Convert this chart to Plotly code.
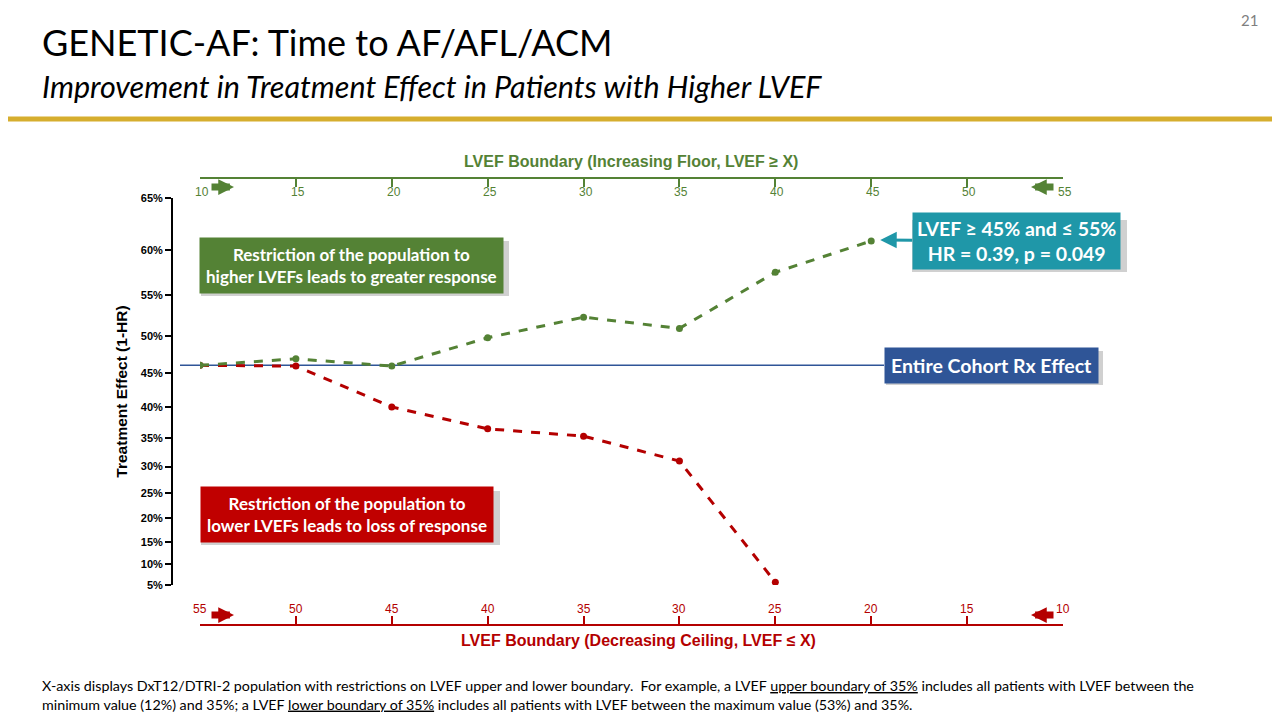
import math
import plotly.graph_objects as go

# LVEF boundary values (top axis: floor, bottom axis: ceiling)
floor_lvef = [10, 15, 20, 25, 30, 35, 40, 45]
floor_effect = [46.1, 47.0, 46.0, 49.8, 52.4, 51.0, 57.6, 60.9]   # treatment effect %, 1-HR

ceiling_lvef = [55, 50, 45, 40, 35, 30, 25]
ceiling_effect = [46.1, 46.0, 40.0, 36.5, 35.3, 31.0, 5.7]

cohort_effect = 46.1
best_lvef = 45
best_hr = 0.39

y_ticks = [65, 60, 55, 50, 45, 40, 35, 30, 25, 20, 15, 10, 5]
x_ticks = [10, 15, 20, 25, 30, 35, 40, 45, 50, 55]

GREEN = '#548235'
RED = '#B40000'
BOXRED = '#C00000'
TEAL = '#1F97A8'
NAVY = '#2F5597'
SHADOW = '#c4c4c4'
FONT = 'Lato'

# page has an 8px body margin, so work in screen pixels and shift
OFF = 8
FW, FH = 1280 - OFF, 720 - OFF
L, R, T, B = 172 - OFF, 1063 - OFF, 178 - OFF, 625 - OFF
W, H = R - L, B - T


def px(x):
    return (x - OFF - L) / W


def py(y):
    return (B - (y - OFF)) / H


def hr(e):
    return 1 - e / 100


fig = go.Figure()

# floor series (top axis)
fig.add_trace(go.Scatter(
    x = floor_lvef, y = [hr(e) for e in floor_effect], xaxis = 'x2', yaxis = 'y',
    mode = 'lines+markers', line = dict(color = GREEN, width = 3, dash = 'dash'),
    marker = dict(color = GREEN, size = 7), hoverinfo = 'skip'
))

# ceiling series (bottom axis)
fig.add_trace(go.Scatter(
    x = ceiling_lvef, y = [hr(e) for e in ceiling_effect], xaxis = 'x', yaxis = 'y',
    mode = 'lines+markers', line = dict(color = RED, width = 3, dash = 'dash'),
    marker = dict(color = RED, size = 7), hoverinfo = 'skip'
))

# entire cohort reference line
fig.add_shape(type = 'line', xref = 'paper', yref = 'y', x0 = px(180), x1 = px(884),
              y0 = hr(cohort_effect), y1 = hr(cohort_effect), line = dict(color = NAVY, width = 1.5), layer = 'below')

dom_x = [(200 - OFF - L) / W, 1]
dom_y = [py(585), py(198)]

fig.update_layout(
    width = FW, height = FH, autosize = False,
    margin = dict(l = L, r = FW - R, t = T, b = FH - B, pad = 0),
    paper_bgcolor = 'white', plot_bgcolor = 'white', showlegend = False,
    xaxis = dict(
        domain = dom_x, range = [55, 10], anchor = 'free', position = 0,
        tickvals = x_ticks, showticklabels = False, showline = True, linecolor = RED, linewidth = 2,
        ticks = 'inside', ticklen = 8, tickwidth = 2, tickcolor = RED,
        showgrid = False, zeroline = False,
    ),
    xaxis2 = dict(
        domain = dom_x, range = [10, 55], anchor = 'free', position = 1, side = 'top', overlaying = 'x',
        tickvals = x_ticks, showticklabels = False, showline = True, linecolor = GREEN, linewidth = 2,
        ticks = 'inside', ticklen = 8, tickwidth = 2, tickcolor = GREEN,
        showgrid = False, zeroline = False,
    ),
    yaxis = dict(
        domain = dom_y, type = 'log', range = [math.log10(0.95), math.log10(0.35)],
        anchor = 'free', position = 0,
        tickvals = [hr(v) for v in y_ticks], ticktext = [f'<b>{v}%</b>' for v in y_ticks],
        showline = True, linecolor = 'black', linewidth = 2,
        ticks = 'outside', ticklen = 6, tickwidth = 2, tickcolor = 'black',
        tickfont = dict(family = 'Arial', size = 11, color = 'black'),
        showgrid = False, zeroline = False,
        title = dict(text = '<b>Treatment Effect (1-HR)</b>',
                     font = dict(family = 'Arial', size = 15.5, color = 'black'), standoff = 8),
    ),
)

annotations = [
    dict(x = px(40), y = py(42), text = 'GENETIC-AF: Time to AF/AFL/ACM', xanchor = 'left', yanchor = 'middle',
         font = dict(family = FONT, size = 36, color = 'black')),
    dict(x = px(40), y = py(86), text = '<i>Improvement in Treatment Effect in Patients with Higher LVEF</i>',
         xanchor = 'left', yanchor = 'middle', font = dict(family = FONT, size = 30.5, color = 'black')),
    dict(x = px(1260), y = py(20), text = '21', xanchor = 'right', yanchor = 'middle',
         font = dict(family = FONT, size = 15, color = '#7f7f7f')),
    dict(x = px(40), y = py(695),
         text = 'X-axis displays DxT12/DTRI-2 population with restrictions on LVEF upper and lower boundary.  For example, a LVEF '
                '<u>upper boundary of 35%</u> includes all patients with LVEF between the<br>minimum value (12%) and 35%; a LVEF '
                '<u>lower boundary of 35%</u> includes all patients with LVEF between the maximum value (53%) and 35%.',
         xanchor = 'left', yanchor = 'middle', align = 'left', font = dict(family = FONT, size = 14.3, color = 'black')),
    # axis titles
    dict(x = px(631), y = py(161), text = '<b>LVEF Boundary (Increasing Floor, LVEF ≥ X)</b>', xanchor = 'center',
         yanchor = 'middle', font = dict(family = 'Arial', size = 16, color = GREEN)),
    dict(x = px(638), y = py(640), text = '<b>LVEF Boundary (Decreasing Ceiling, LVEF ≤ X)</b>', xanchor = 'center',
         yanchor = 'middle', font = dict(family = 'Arial', size = 16, color = RED)),
]

# tick labels of the two LVEF axes
for v in x_ticks:
    annotations.append(dict(x = v, xref = 'x2', y = py(192), text = str(v), xanchor = 'center', yanchor = 'middle',
                            xshift = 2, font = dict(family = 'Arial', size = 12, color = GREEN)))
    annotations.append(dict(x = v, xref = 'x', y = py(609), text = str(v), xanchor = 'center', yanchor = 'middle',
                            font = dict(family = 'Arial', size = 12, color = RED)))

# text boxes
boxes = [
    (351, 265, '<b>Restriction of the population to<br>higher LVEFs leads to greater response</b>', GREEN, 17, 6),
    (347, 514, '<b>Restriction of the population to<br>lower LVEFs leads to loss of response</b>', BOXRED, 17, 6),
    (991, 365, '<b>Entire Cohort Rx Effect</b>', NAVY, 19.5, 6),
]
for bx, by, txt, col, size, pad in boxes:
    annotations.append(dict(x = px(bx), y = py(by), text = txt, xanchor = 'center', yanchor = 'middle',
                            bgcolor = col, borderpad = pad, font = dict(family = FONT, size = size, color = 'white')))

annotations.append(dict(x = best_lvef, y = math.log10(best_hr), xref = 'x2', yref = 'y',
                        text = '<b>LVEF ≥ 45% and ≤ 55%<br>HR = 0.39, p = 0.049</b>',
                        bgcolor = TEAL, borderpad = 4, font = dict(family = FONT, size = 19.5, color = 'white'),
                        showarrow = True, ax = 145, ay = 1, arrowhead = 2, arrowwidth = 3, arrowsize = 1.1,
                        arrowcolor = TEAL, standoff = 9))

# axis direction arrows
for ax_x, tail, y, col in ((234, -24, 187, GREEN), (1031, 24, 187, GREEN), (234, -24, 615, RED), (1031, 24, 615, RED)):
    annotations.append(dict(x = px(ax_x), y = py(y), ax = tail, ay = 0, text = '', showarrow = True,
                            arrowhead = 2, arrowwidth = 7, arrowsize = 0.45, arrowcolor = col))

for a in annotations:
    a.setdefault('xref', 'paper')
    a.setdefault('yref', 'paper')
    a.setdefault('showarrow', False)
    fig.add_annotation(**a)

# soft shadows behind the text boxes (annotations draw on top of shapes)
for x0, y0, x1, y1 in ((197, 237, 506, 293), (197, 487, 497, 542), (908, 216, 1124, 269), (882, 347, 1100, 382)):
    fig.add_shape(type = 'rect', xref = 'paper', yref = 'paper', x0 = px(x0 + 4), x1 = px(x1 + 3),
                  y0 = py(y0 + 4), y1 = py(y1 + 3), fillcolor = SHADOW, line = dict(width = 0), opacity = 0.8)

# gold divider
fig.add_shape(type = 'line', xref = 'paper', yref = 'paper', x0 = px(0), x1 = px(1280),
              y0 = py(119), y1 = py(119), line = dict(color = '#D6AE2E', width = 5))

fig.write_html("out.html")
